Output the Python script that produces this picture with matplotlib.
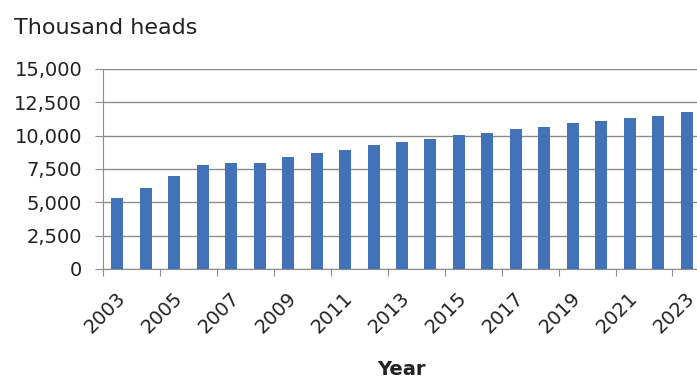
import matplotlib
matplotlib.use("Agg")
import matplotlib.pyplot as plt
import matplotlib.transforms as mtransforms

years = list(range(2003, 2024))
heads = [5350, 6100, 6975, 7800, 7925, 7925, 8375, 8675, 8925, 9300, 9525,
         9775, 10050, 10175, 10500, 10625, 10925, 11075, 11325, 11475, 11775]
y_ticks = [0, 2500, 5000, 7500, 10000, 12500, 15000]

def main():
  plt.rcParams['font.family'] = ['DejaVu Sans']
  fig = plt.figure(figsize=(6.97, 3.78), dpi=100)
  ax = fig.add_axes([0.1478, 0.2884, 0.8579, 0.5291])

  x = list(range(len(years)))
  ax.bar(x, heads, width=0.42, color='#4273B9', zorder=3)

  ax.set_xlim(-0.5, len(years) - 0.5)
  ax.set_ylim(0, 15000)
  ax.set_yticks(y_ticks)
  ax.set_yticklabels([f"{v:,}" for v in y_ticks], fontsize=14, color='#222222')
  ax.yaxis.grid(True, color='#8c8c8c', linewidth=1, zorder=0)
  ax.tick_params(axis='y', length=6, color='#8c8c8c', pad=9)

  # tick marks on category boundaries, labels on odd years
  ax.set_xticks([i - 0.5 for i in range(0, len(years), 2)])
  ax.set_xticklabels([])
  ax.tick_params(axis='x', which='major', length=5, color='#8c8c8c')
  ax.set_xticks(list(range(0, len(years), 2)), minor=True)
  ax.set_xticklabels([str(years[i]) for i in range(0, len(years), 2)], minor=True,
                     rotation=45, ha='right', va='center', rotation_mode='anchor',
                     fontsize=14, color='#222222')
  ax.tick_params(axis='x', which='minor', length=0, pad=4)
  offset = mtransforms.ScaledTranslation(5 / 100, -21 / 100, fig.dpi_scale_trans)
  for lbl in ax.get_xticklabels(minor=True):
    lbl.set_transform(lbl.get_transform() + offset)

  for side in ['top', 'right']:
    ax.spines[side].set_visible(False)
  ax.spines['left'].set_color('#8c8c8c')
  ax.spines['bottom'].set_color('#8c8c8c')

  fig.text(0.02, 0.925, "Thousand heads", fontsize=16, color='#222222', va='center')
  fig.text(0.576, 0.022, "Year", fontsize=14, fontweight='bold', color='#222222',
           ha='center', va='center')

  fig.savefig("out.png", dpi=100)

if __name__ == "__main__":
  main()
